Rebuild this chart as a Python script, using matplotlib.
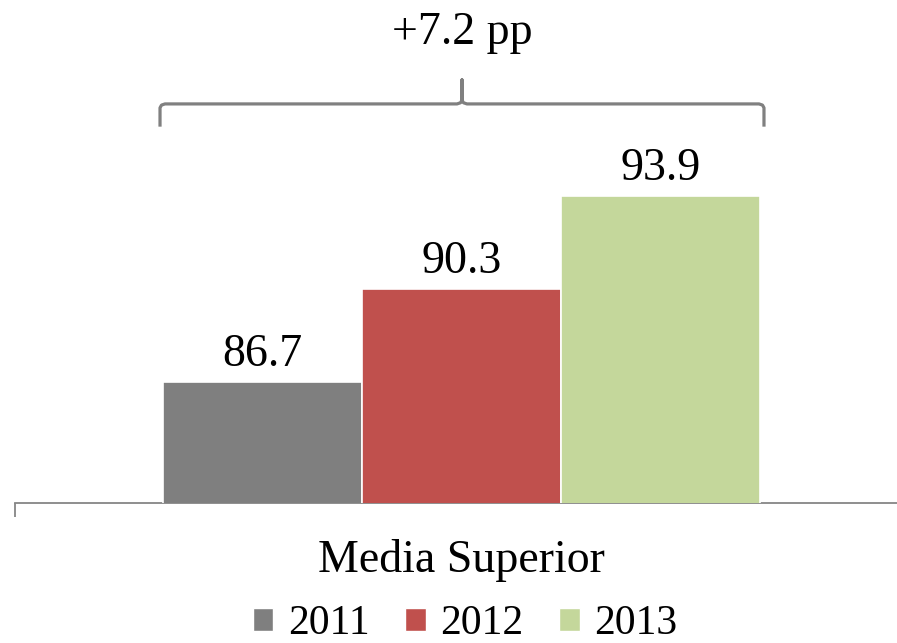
#!/usr/bin/env python3
"""Bar chart: Media Superior, 2011-2013, with a +pp bracket on top."""

import matplotlib
matplotlib.use('Agg')
import matplotlib.pyplot as plt
from matplotlib.patches import Patch

years = ['2011', '2012', '2013']
values = [86.7, 90.3, 93.9]
category = 'Media Superior'
colors = ['#7F7F7F', '#C0504D', '#C4D79B']

plt.rcParams['font.family'] = ['Liberation Serif', 'DejaVu Serif']

W, H = 897, 643
fig = plt.figure(figsize=(W / 100, H / 100), dpi=100)

# axes placed in pixels: left spine at x=15, baseline at y=503
ax = fig.add_axes([15 / W, (H - 503) / H, (W - 15) / W, 503 / H])

px_per_unit_x = 199.0
cx = 461.5
xs = [-1, 0, 1]
bars = ax.bar(xs, values, width=1.0, color=colors, edgecolor='white',
              linewidth=1.2, zorder=3)

ymin = 82.0
px_per_unit_y = 25.83
ax.set_ylim(ymin, ymin + 503 / px_per_unit_y)
ax.set_xlim((15 - cx) / px_per_unit_x, (W - cx) / px_per_unit_x)

ax.bar_label(bars, labels=[f'{v:.1f}' for v in values], padding=4,
             fontsize=33, color='black')

for s in ['top', 'right', 'left']:
    ax.spines[s].set_visible(False)
ax.spines['bottom'].set_color('#868686')
ax.spines['bottom'].set_linewidth(1.3)
ax.set_yticks([])
ax.set_xticks([0])
ax.set_xticklabels([category], fontsize=33)
ax.tick_params(axis='x', length=0, pad=26)
ax.set_xticks([ax.get_xlim()[0]], minor=True)
ax.tick_params(axis='x', which='minor', length=10, width=1.3, color='#868686')

# bracket over the three bars
diff = values[-1] - values[0]
x0, x1 = xs[0] - 0.515, xs[-1] + 0.52
xm = (x0 + x1) / 2
y_end, y_bar, y_tip = 96.57, 97.45, 98.38
rx, ry = 0.025, 0.15
bx = [x0, x0, x0 + rx * 0.3, x0 + rx, xm - rx, xm - rx * 0.3, xm, xm,
      xm, xm + rx * 0.3, xm + rx, x1 - rx, x1 - rx * 0.3, x1, x1]
by = [y_end, y_bar - ry, y_bar - ry * 0.3, y_bar, y_bar, y_bar + ry * 0.3,
      y_bar + ry, y_tip, y_bar + ry, y_bar + ry * 0.3, y_bar, y_bar,
      y_bar - ry * 0.3, y_bar - ry, y_end]
ax.plot(bx, by, color='#808080', lw=2.3, solid_joinstyle='round',
        solid_capstyle='butt', clip_on=False, zorder=4)
ax.text(xm, 100.2, f'+{diff:.1f} pp', ha='center', va='center', fontsize=33)

handles = [Patch(facecolor=c, edgecolor='white') for c in colors]
fig.legend(handles, years, loc='center', bbox_to_anchor=(465 / W, 1 - 624 / H),
           ncol=3, frameon=False, fontsize=30, handlelength=0.5,
           handleheight=0.5, handletextpad=0.35, columnspacing=0.85)

fig.savefig('out.png', dpi=100)
